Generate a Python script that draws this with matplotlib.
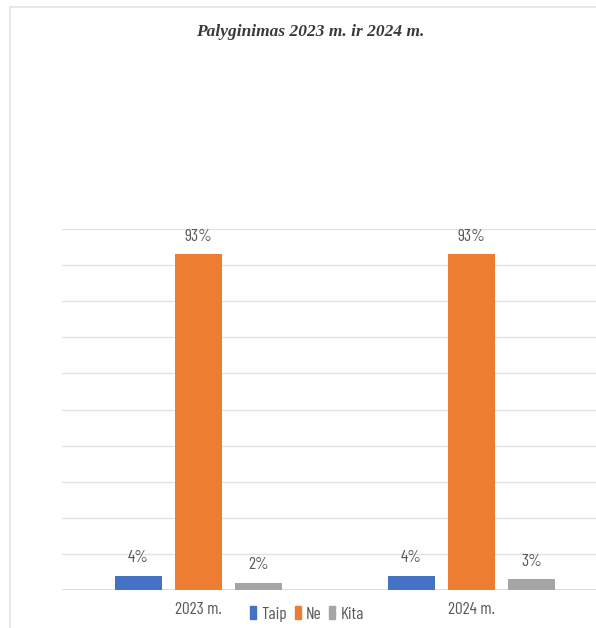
import matplotlib
matplotlib.use("Agg")
import matplotlib.pyplot as plt
from matplotlib.patches import Rectangle
import numpy as np

categories = ["2023 m.", "2024 m."]
series_names = ["Taip", "Ne", "Kita"]
taip = [4, 4]
ne = [93, 93]
kita = [2, 3]
colors = ["#4472C4", "#ED7D31", "#A5A5A5"]
title = "Palyginimas 2023 m. ir 2024 m."

W, H = 596, 628
fig = plt.figure(figsize=(W / 100, H / 100), dpi=100)
fig.patch.set_facecolor("white")

# outer chart frame
fig.add_artist(Rectangle((10 / W, -0.05), 1.1, 1 - 7 / H + 0.05, transform=fig.transFigure,
                         fill=False, edgecolor="#e3e3e3", linewidth=1.2))

ax = fig.add_axes([62 / W, 1 - 590 / H, 546 / W, (590 - 229) / H])
ax.set_xlim(-0.5, 1.5)
ax.set_ylim(0, 100)
for s in ax.spines.values():
    s.set_visible(False)
ax.set_yticks(np.arange(0, 101, 10))
ax.grid(axis="y", color="#e3e3e3", linewidth=1.0)
ax.set_axisbelow(True)
ax.tick_params(axis="y", left=False, labelleft=False)
ax.tick_params(axis="x", bottom=False, pad=5)
ax.axhline(0, color="#d9d9d9", linewidth=1.2, zorder=1)

font = ["Barlow Condensed", "Roboto Condensed", "DejaVu Sans"]
x = np.arange(len(categories))
bw = 0.173
off = 0.2206
all_series = [taip, ne, kita]
for i, (name, vals, c) in enumerate(zip(series_names, all_series, colors)):
    xs = x + (i - 1) * off
    ax.bar(xs, vals, width=bw, color=c, label=name, zorder=2)
    for xi, v in zip(xs, vals):
        ax.annotate(f"{v}%", (xi, v), xytext=(0, 13), textcoords="offset points",
                    ha="center", va="center", fontsize=12.5, color="#595959",
                    family=font)

ax.set_xticks(x)
ax.set_xticklabels(categories, fontsize=12.5, color="#595959", family=font)

fig.text(310 / W, 1 - 32 / H, title, ha="center", va="center", fontsize=12.5,
         fontweight="bold", fontstyle="italic", color="#3a3a3a",
         family=["Liberation Serif", "DejaVu Serif"])

handles = [Rectangle((0, 0), 1, 1, color=c) for c in colors]
fig.legend(handles, series_names, loc="center", bbox_to_anchor=(307 / W, 1 - 614 / H),
           ncol=3, frameon=False, handlelength=0.35, handleheight=0.75,
           handletextpad=0.3, columnspacing=0.45,
           prop={"family": font, "size": 12.5}, labelcolor="#595959")

fig.savefig("out.png", dpi=100, facecolor="white")
